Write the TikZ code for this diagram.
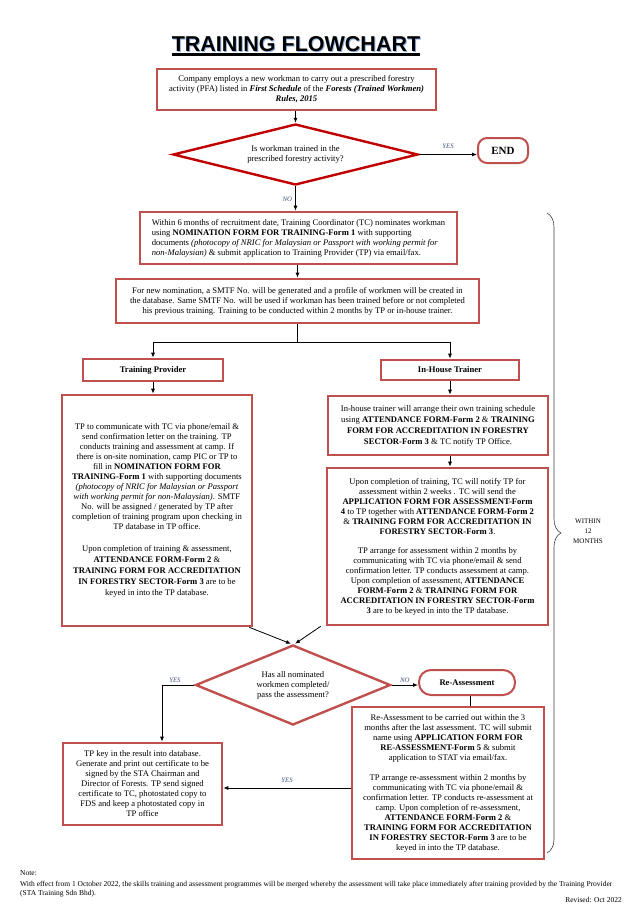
\documentclass[tikz,border=0pt]{standalone}
\usepackage{fontspec}
\setmainfont{Liberation Serif}
\newfontfamily\titlefont{Liberation Sans}
\usetikzlibrary{shapes.geometric,arrows.meta,decorations.pathreplacing}
\definecolor{boxred}{HTML}{C0504D}
\definecolor{darkred}{HTML}{C00000}
\definecolor{answerblue}{HTML}{3B4E7A}
\definecolor{shadowblue}{HTML}{8EB4E3}
\definecolor{bracegray}{HTML}{404040}
\newcommand{\bodysize}{\fontsize{8.6}{10}\selectfont}
\tikzset{
  box/.style={draw=boxred, line width=2.6pt, rectangle, inner sep=0pt, align=center},
  head/.style={box, font=\bfseries},
  decision/.style={diamond, aspect=4, line width=2.4pt, inner sep=0pt, align=center},
  terminal/.style={draw=boxred, line width=2pt, inner sep=0pt, font=\bfseries},
  flow/.style={-{Latex[length=5pt,width=4pt]}, line width=0.8pt},
  answer/.style={font=\fontsize{6.8}{7}\selectfont\itshape, text=answerblue, inner sep=1pt},
  footnote/.style={inner sep=0pt, font=\fontsize{7.5}{9}\selectfont}
}
\begin{document}
\begin{tikzpicture}[x=1pt,y=-1pt]
% fixing the page size
\useasboundingbox (0,0) rectangle (642,911);
{\bodysize

% Drawing title with its shadow
\node [anchor=base, inner sep=0pt, text=shadowblue, font=\titlefont\bfseries\fontsize{21.5}{24}\selectfont] (titleshadow) at (297,52) {TRAINING FLOWCHART};
\node [anchor=base, inner sep=0pt, font=\titlefont\bfseries\fontsize{21.5}{24}\selectfont] (title) at (296,51) {TRAINING FLOWCHART};
\draw [line width=2.4pt] ([yshift=-3.5pt]title.base west) -- ([yshift=-3.5pt]title.base east);

% Drawing box employ
\node [box, minimum width=279pt, minimum height=41pt] (employ) at (296.5,89.5)
  {Company employs a new workman to carry out a prescribed forestry\\
   activity (PFA) listed in \textbf{\textit{First Schedule}} of the \textbf{\textit{Forests (Trained Workmen)}}\\
   \textbf{\textit{Rules, 2015}}};

% Drawing decision trained
\node [decision, draw=darkred, minimum width=245pt, minimum height=61pt] (trained) at (295.5,154.5)
  {Is workman trained in the\\prescribed forestry activity?};

% Drawing terminal END
\node [terminal, rounded corners=9pt, minimum width=50pt, minimum height=25pt, font=\bfseries\fontsize{11}{12}\selectfont] (end) at (503,150.5) {END};

% Drawing box nominate
\node [box, align=left, minimum width=317pt, minimum height=52pt] (nominate) at (298.5,238)
  {Within 6 months of recruitment date, Training Coordinator (TC) nominates workman\\
   using \textbf{NOMINATION FORM FOR TRAINING-Form 1} with supporting\\
   documents \textit{(photocopy of NRIC for Malaysian or Passport with working permit for}\\
   \textit{non-Malaysian)} \& submit application to Training Provider (TP) via email/fax.};

% Drawing box newnom
\node [box, minimum width=363pt, minimum height=44pt] (newnom) at (297.5,301)
  {For new nomination, a SMTF No. will be generated and a profile of workmen will be created in\\
   the database. Same SMTF No. will be used if workman has been trained before or not completed\\
   his previous training. Training to be conducted within 2 months by TP or in-house trainer.};
\coordinate (split) at (297.5,342);

% Drawing heads of the two branches
\node [head, minimum width=140pt, minimum height=22pt] (provider) at (153,370) {Training Provider};
\node [head, minimum width=138pt, minimum height=20pt] (inhouse) at (450,370) {In-House Trainer};

% Drawing box tpbox
\node [box, minimum width=190pt, minimum height=231pt] (tpbox) at (157,510.5)
  {TP to communicate with TC via phone/email \&\\
   send confirmation letter on the training. TP\\
   conducts training and assessment at camp. If\\
   there is on-site nomination, camp PIC or TP to\\
   fill in \textbf{NOMINATION FORM FOR}\\
   \textbf{TRAINING-Form 1} with supporting documents\\
   \textit{(photocopy of NRIC for Malaysian or Passport}\\
   \textit{with working permit for non-Malaysian)}. SMTF\\
   No. will be assigned / generated by TP after\\
   completion of training program upon checking in\\
   TP database in TP office.\\[12pt]
   Upon completion of training \& assessment,\\[1pt]
   \textbf{ATTENDANCE FORM-Form 2} \&\\[1pt]
   \textbf{TRAINING FORM FOR ACCREDITATION}\\[1pt]
   \textbf{IN FORESTRY SECTOR-Form 3} are to be\\[1pt]
   keyed in into the TP database.};

% Drawing box ihbox
\node [box, minimum width=220pt, minimum height=59pt] (ihbox) at (438,425.5)
  {In-house trainer will arrange their own training schedule\\[1pt]
   using \textbf{ATTENDANCE FORM-Form 2} \& \textbf{TRAINING}\\[1pt]
   \textbf{FORM FOR ACCREDITATION IN FORESTRY}\\[1pt]
   \textbf{SECTOR-Form 3} \& TC notify TP Office.};

% Drawing box assessbox
\node [box, minimum width=221pt, minimum height=157pt] (assessbox) at (437.5,546.5)
  {Upon completion of training, TC will notify TP for\\
   assessment within 2 weeks . TC will send the\\
   \textbf{APPLICATION FORM FOR ASSESSMENT-Form}\\
   \textbf{4} to TP together with \textbf{ATTENDANCE FORM-Form 2}\\
   \& \textbf{TRAINING FORM FOR ACCREDITATION IN}\\
   \textbf{FORESTRY SECTOR-Form 3}.\\[9pt]
   TP arrange for assessment within 2 months by\\
   communicating with TC via phone/email \& send\\
   confirmation letter. TP conducts assessment at camp.\\
   Upon completion of assessment, \textbf{ATTENDANCE}\\
   \textbf{FORM-Form 2} \& \textbf{TRAINING FORM FOR}\\
   \textbf{ACCREDITATION IN FORESTRY SECTOR-Form}\\
   \textbf{3} are to be keyed in into the TP database.};

% Drawing decision passed
\node [decision, draw=boxred, aspect=2.4, minimum width=195pt, minimum height=80pt] (passed) at (293,685)
  {Has all nominated\\workmen completed/\\pass the assessment?};

% Drawing terminal Re-Assessment
\node [terminal, rounded corners=12pt, minimum width=96pt, minimum height=25pt] (reassess) at (467,682.5) {Re-Assessment};

% Drawing box result
\node [box, minimum width=159pt, minimum height=82pt] (result) at (142.5,784)
  {TP key in the result into database.\\
   Generate and print out certificate to be\\
   signed by the STA Chairman and\\
   Director of Forests. TP send signed\\
   certificate to TC, photostated copy to\\
   FDS and keep a photostated copy in\\
   TP office};

% Drawing box rebox
\node [box, minimum width=192pt, minimum height=152pt] (rebox) at (448,783)
  {Re-Assessment to be carried out within the 3\\
   months after the last assessment. TC will submit\\
   name using \textbf{APPLICATION FORM FOR}\\
   \textbf{RE-ASSESSMENT-Form 5} \& submit\\
   application to STAT via email/fax.\\[10pt]
   TP arrange re-assessment within 2 months by\\
   communicating with TC via phone/email \&\\
   confirmation letter. TP conducts re-assessment at\\
   camp. Upon completion of re-assessment,\\
   \textbf{ATTENDANCE FORM-Form 2} \&\\
   \textbf{TRAINING FORM FOR ACCREDITATION}\\
   \textbf{IN FORESTRY SECTOR-Form 3} are to be\\
   keyed in into the TP database.};

% Drawing connectors
\draw [flow] (employ.south -| trained.north) -- (trained.north);
\draw [flow] (trained.east) -- (trained.east -| end.west) node [answer, midway, above=5pt] (yes1) {YES};
\draw [flow] (trained.south) -- (trained.south |- nominate.north) node [answer, pos=0.55, left=2pt] (no1) {NO};
\draw [flow] (nominate.south -| newnom.north) -- (newnom.north);
\draw [line width=0.8pt] (newnom.south) -- (split);
\draw [flow] (split) -| (provider.north);
\draw [flow] (split) -| (inhouse.north);
\draw [flow] (provider.south) -- (provider.south |- tpbox.north);
\draw [flow] (inhouse.south) -- (inhouse.south |- ihbox.north);
\draw [flow] (inhouse.south |- ihbox.south) -- (inhouse.south |- assessbox.north);
\draw [flow] ([xshift=-4pt]tpbox.south east) -- ([xshift=-2pt]passed.north);
\draw [flow] ([xshift=-5pt]assessbox.south west) -- ([xshift=2pt]passed.north);
\coordinate (yesbend) at (162,685);
\draw [flow] (passed.west) -- (yesbend) node [answer, pos=0.6, above=1pt] (yes2) {YES} -- (yesbend |- result.north);
\draw [flow] (passed.east) -- (passed.east -| reassess.west) node [answer, midway, above=1pt] (no2) {NO};
\draw [line width=0.8pt] ([xshift=3pt]reassess.south) -- ([xshift=3pt]reassess.south |- rebox.north);
\draw [flow] ([yshift=-5pt]rebox.west) -- ([yshift=-5pt]rebox.west -| result.east) node [answer, midway, above=4pt] (yes3) {YES};

% Drawing brace of twelve months
\draw [decorate, decoration={brace, amplitude=14pt}, line width=0.6pt, draw=bracegray] (547,213) -- (547,853);
\node [align=center, font=\fontsize{7}{10}\selectfont] (months) at (588,531) {WITHIN\\12\\MONTHS};

% Marking note and revision
\node [footnote, anchor=base west] (note) at (20,875) {Note:};
\node [footnote, anchor=base west] (noteline) at (20,886) {With effect from 1 October 2022, the skills training and assessment programmes will be merged whereby the assessment will take place immediately after training provided by the Training Provider};
\node [footnote, anchor=base west] (noteend) at (20,895) {(STA Training Sdn Bhd).};
\node [footnote, anchor=base east] (revised) at (622,902) {Revised: Oct 2022};
}
\end{tikzpicture}
\end{document}
